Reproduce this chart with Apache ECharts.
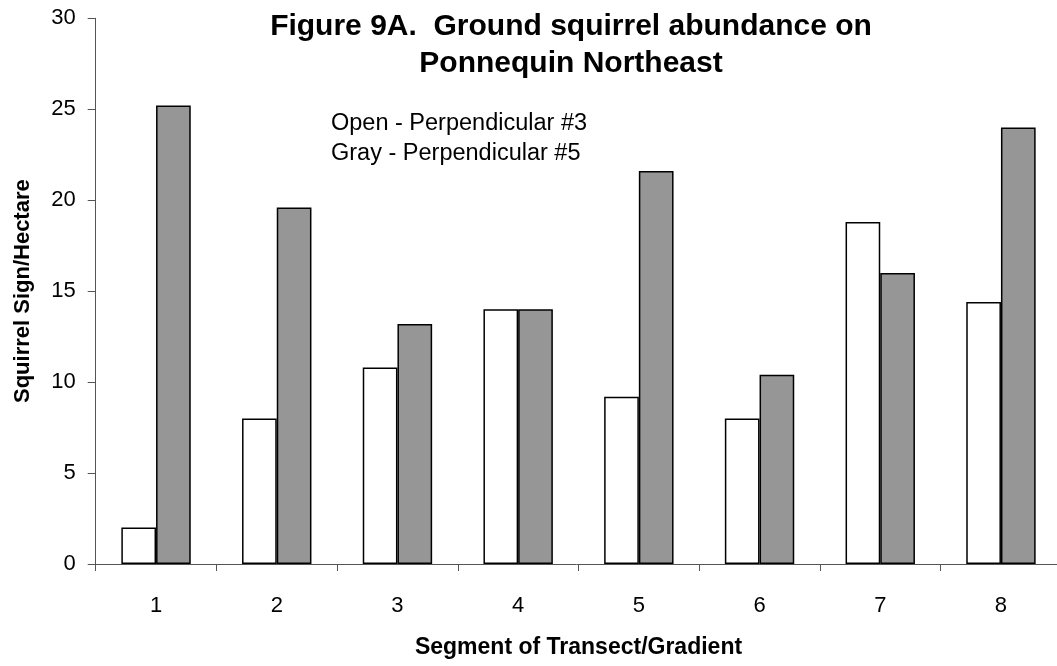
<!DOCTYPE html>
<html><head><meta charset="utf-8">
<script src="https://cdn.jsdelivr.net/npm/echarts@6/dist/echarts.min.js"></script>
<style>html,body{margin:0;padding:0;background:#fff}#c{width:1057px;height:666px}</style>
</head><body><div id="c"></div>
<script>
const categories = ['1','2','3','4','5','6','7','8'];
const perp3Open = [2, 8, 10.8, 14, 9.2, 8, 18.8, 14.4];
const perp5Gray = [25.2, 19.6, 13.2, 14, 21.6, 10.4, 16, 24];
const titleLines = ['Figure 9A.  Ground squirrel abundance on', 'Ponnequin Northeast'];
const noteLines = ['Open - Perpendicular #3', 'Gray - Perpendicular #5'];
const xName = 'Segment of Transect/Gradient';
const yName = 'Squirrel Sign/Hectare';

const FONT = '"Liberation Sans", Arial, sans-serif';
const chart = echarts.init(document.getElementById('c'), null, {renderer: 'canvas'});
chart.setOption({
  animation: false,
  backgroundColor: '#fff',
  title: {
    text: titleLines.join('\n'),
    left: 566, top: 3, textAlign: 'center',
    textStyle: {fontFamily: FONT, fontWeight: 'bold', fontSize: 30, lineHeight: 37, color: '#000'}
  },
  graphic: [{
    type: 'text', left: 331, top: 109,
    style: {text: noteLines.join('\n'), font: '23.5px ' + FONT, lineHeight: 30, fill: '#000'}
  }],
  grid: {left: 95.7, top: 18.3, width: 965.6, height: 545.7, containLabel: false, outerBoundsMode: 'none'},
  xAxis: {
    type: 'category', data: categories,
    name: xName, nameLocation: 'middle', nameGap: 72,
    nameTextStyle: {fontFamily: FONT, fontWeight: 'bold', fontSize: 23, color: '#000'},
    axisLine: {lineStyle: {color: '#555', width: 1}},
    axisTick: {show: true, length: 7, lineStyle: {color: '#555'}},
    axisLabel: {fontFamily: FONT, fontSize: 22, color: '#000', margin: 31}
  },
  yAxis: {
    type: 'value', min: 0, max: 30, interval: 5,
    name: yName, nameLocation: 'middle', nameGap: 62, nameRotate: 90,
    nameTextStyle: {fontFamily: FONT, fontWeight: 'bold', fontSize: 22, color: '#000'},
    splitLine: {show: false},
    axisLine: {show: true, lineStyle: {color: '#555', width: 1}},
    axisTick: {show: true, length: 8, lineStyle: {color: '#555'}},
    axisLabel: {fontFamily: FONT, fontSize: 22, color: '#000', margin: 20}
  },
  series: [
    {type: 'bar', name: noteLines[0], data: perp3Open, barWidth: 34.7, barGap: '0%',
     itemStyle: {color: '#fff', borderColor: '#000', borderWidth: 1.5}},
    {type: 'bar', name: noteLines[1], data: perp5Gray, barWidth: 34.7, barGap: '0%',
     itemStyle: {color: '#969696', borderColor: '#000', borderWidth: 1.5}}
  ]
});
</script></body></html>
